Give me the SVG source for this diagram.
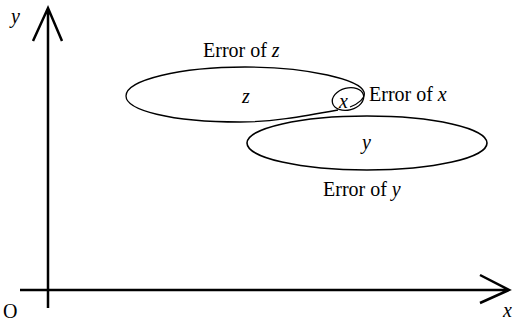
<svg xmlns="http://www.w3.org/2000/svg" width="516" height="323" viewBox="0 0 516 323">
<style>
.ax{stroke:#000;stroke-width:2.5;fill:none}
.sh{stroke:#000;stroke-width:1.3;fill:none}
.t{font-family:"Liberation Serif","Times New Roman",serif;font-size:20px;fill:#000}
.i{font-style:italic}
</style>
<rect width="516" height="323" fill="#fff"/>
<g id="axes">
<path class="ax" d="M48,308 V8 M33,41 L48,8 L62,41"/>
<path class="ax" d="M20,290 H509 M480,275 L509,290 L480,303"/>
<text class="t i" x="11" y="23">y</text>
<text class="t" x="3" y="318">O</text>
<text class="t i" x="503" y="317">x</text>
</g>
<g id="z">
<path class="sh" d="M338,110 C300,117 270,122 240,122 C170,122 126,110 126,96 C126,80 180,67 245,67 C310,67 360,80 364,92 C366,98 358,104 350,107"/>
<text class="t i" x="242" y="103">z</text>
<text class="t" x="203" y="57">Error of <tspan class="i">z</tspan></text>
</g>
<g id="x">
<ellipse class="sh" cx="348" cy="99" rx="16" ry="11" transform="rotate(-15 348 99)"/>
<text class="t i" x="339" y="108">x</text>
<text class="t" x="369" y="101">Error of <tspan class="i">x</tspan></text>
</g>
<g id="y">
<ellipse class="sh" style="stroke-width:1.6" cx="367" cy="143" rx="120" ry="27"/>
<text class="t i" x="362" y="149">y</text>
<text class="t" x="323" y="196">Error of <tspan class="i">y</tspan></text>
</g>
</svg>
